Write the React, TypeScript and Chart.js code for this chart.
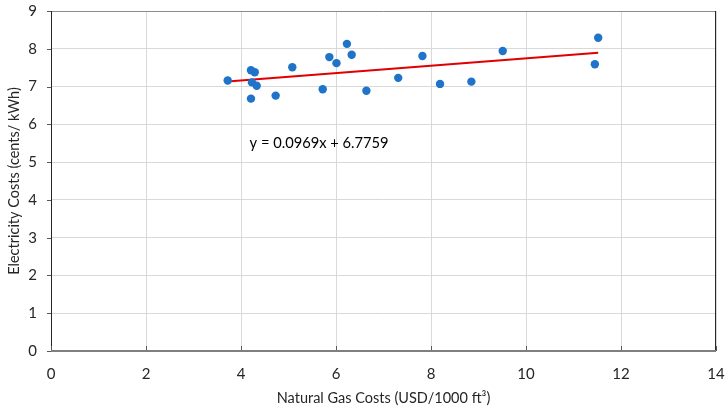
import React, { useEffect, useRef } from "react";
import { Chart, registerables } from "chart.js";

Chart.register(...registerables);

const gasCosts = [3.72, 4.21, 4.29, 4.23, 4.33, 4.21, 4.73, 5.08, 5.72, 5.86, 6.01, 6.23, 6.33, 6.64, 7.31, 7.82, 8.19, 8.85, 9.51, 11.45, 11.52];
const elecCosts = [7.16, 7.43, 7.38, 7.11, 7.02, 6.68, 6.76, 7.51, 6.93, 7.78, 7.62, 8.13, 7.84, 6.89, 7.23, 7.81, 7.07, 7.13, 7.94, 7.59, 8.29];
const slope = 0.0969;
const intercept = 6.7759;
const equationLabel = "y = 0.0969x + 6.7759";
const xTitle = "Natural Gas Costs (USD/1000 ft³)";
const yTitle = "Electricity Costs (cents/ kWh)";

const FONT = "Lato, 'Open Sans', sans-serif";

export default function App() {
  const ref = useRef<HTMLCanvasElement | null>(null);

  useEffect(() => {
    document.body.style.margin = "0";
    if (!ref.current) return;
    const xMin = Math.min(...gasCosts);
    const xMax = Math.max(...gasCosts);
    const trend = [
      { x: xMin, y: slope * xMin + intercept },
      { x: xMax, y: slope * xMax + intercept },
    ];
    const points = gasCosts.map((x, i) => ({ x, y: elecCosts[i] }));

    const framePlugin = {
      id: "frame",
      afterDraw(chart: any) {
        const { ctx, chartArea: a } = chart;
        const xs = chart.scales.x;
        const ys = chart.scales.y;
        ctx.save();
        ctx.lineWidth = 1;
        ctx.strokeStyle = "#8c8c8c";
        ctx.beginPath();
        ctx.moveTo(a.left, a.top + 0.5);
        ctx.lineTo(a.right, a.top + 0.5);
        ctx.stroke();
        ctx.strokeStyle = "#262626";
        ctx.beginPath();
        ctx.moveTo(a.left + 0.5, a.top);
        ctx.lineTo(a.left + 0.5, a.bottom);
        ctx.moveTo(a.right - 0.5, a.top);
        ctx.lineTo(a.right - 0.5, a.bottom);
        ctx.stroke();
        // tick marks
        ctx.strokeStyle = "#595959";
        ctx.beginPath();
        xs.ticks.forEach((t: any) => {
          const px = Math.round(xs.getPixelForValue(t.value)) + 0.5;
          ctx.moveTo(px, a.bottom);
          ctx.lineTo(px, a.bottom - 5);
        });
        ys.ticks.forEach((t: any) => {
          const py = Math.round(ys.getPixelForValue(t.value)) + 0.5;
          ctx.moveTo(a.left, py);
          ctx.lineTo(a.left - 4, py);
        });
        ctx.stroke();
        ctx.strokeStyle = "#7f7f7f";
        ctx.lineWidth = 2;
        ctx.beginPath();
        ctx.moveTo(a.left, a.bottom);
        ctx.lineTo(a.right, a.bottom);
        ctx.stroke();
        // equation label
        ctx.fillStyle = "#000000";
        ctx.font = `14.7px ${FONT}`;
        ctx.textBaseline = "middle";
        ctx.textAlign = "left";
        ctx.fillText(equationLabel, xs.getPixelForValue(4.18), ys.getPixelForValue(5.5));
        ctx.restore();
      },
    };

    const resetPadding = (scale: any) => {
      scale.paddingTop = 0;
      scale.paddingBottom = 0;
      scale.paddingLeft = 0;
      scale.paddingRight = 0;
    };

    const chart = new Chart(ref.current, {
      type: "scatter",
      data: {
        datasets: [
          {
            label: "data",
            data: points,
            backgroundColor: "#1f73c8",
            borderColor: "#1f73c8",
            pointRadius: 4.2,
            pointBorderWidth: 0,
            order: 1,
          },
          {
            label: "trend",
            type: "line",
            data: trend,
            borderColor: "#e00000",
            borderWidth: 2,
            pointRadius: 0,
            showLine: true,
            order: 2,
          } as any,
        ],
      },
      options: {
        animation: false,
        responsive: true,
        maintainAspectRatio: false,
        layout: { padding: { top: 11, right: 11, left: 0, bottom: 0 } },
        plugins: { legend: { display: false }, tooltip: { enabled: false } },
        scales: {
          x: {
            type: "linear",
            min: 0,
            max: 14,
            ticks: { stepSize: 2, color: "#262626", font: { family: FONT, size: 15 }, padding: 14 },
            grid: { color: "#d9d9d9", drawTicks: false },
            border: { display: false },
            title: { display: true, text: xTitle, color: "#262626", font: { family: FONT, size: 14.5 }, padding: { top: 0, bottom: 3 } },
            afterFit(scale: any) {
              scale.height = 59;
              resetPadding(scale);
            },
          },
          y: {
            type: "linear",
            min: 0,
            max: 9,
            ticks: { stepSize: 1, color: "#262626", font: { family: FONT, size: 15 }, padding: 14 },
            grid: { color: "#d9d9d9", drawTicks: false },
            border: { display: false },
            title: { display: true, text: yTitle, color: "#262626", font: { family: FONT, size: 14.5 }, padding: { top: 6, bottom: 0 } },
            afterFit(scale: any) {
              scale.width = 51;
              resetPadding(scale);
            },
          },
        },
      },
      plugins: [framePlugin],
    });
    return () => chart.destroy();
  }, []);

  return (
    <div style={{ position: "fixed", left: 0, top: 0, width: 727, height: 410, background: "#fff" }}>
      <canvas ref={ref} />
    </div>
  );
}
